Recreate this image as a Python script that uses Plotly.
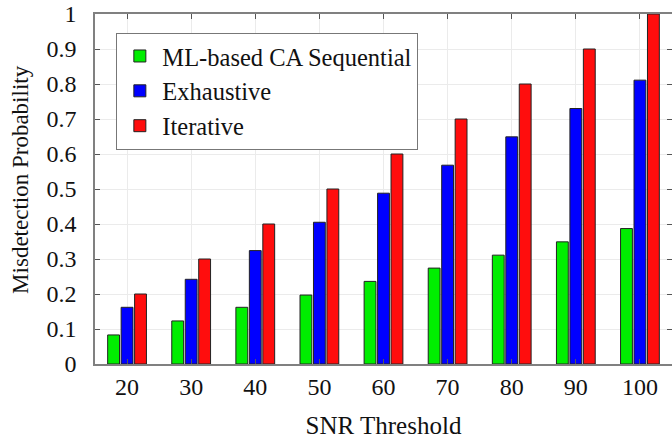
import plotly.graph_objects as go

snr = [20, 30, 40, 50, 60, 70, 80, 90, 100]
ml_seq = [0.083, 0.123, 0.162, 0.197, 0.236, 0.274, 0.311, 0.349, 0.387]
exhaustive = [0.162, 0.242, 0.324, 0.405, 0.488, 0.568, 0.649, 0.730, 0.811]
iterative = [0.2, 0.3, 0.4, 0.5, 0.6, 0.7, 0.8, 0.9, 1.0]

names = ["ML-based CA Sequential", "Exhaustive", "Iterative"]
colors = ["#00ee00", "#0000ff", "#ff0d0d"]
series = [ml_seq, exhaustive, iterative]

FONT = "Times New Roman"

fig = go.Figure()
for n, c, v in zip(names, colors, series):
    fig.add_trace(go.Bar(x=snr, y=v, name=n, marker=dict(color=c, line=dict(color="#222222", width=1))))

fig.update_layout(
    width=672, height=443,
    margin=dict(l=95, r=0, t=14, b=79),
    paper_bgcolor="white", plot_bgcolor="white",
    barmode="group", bargap=0.37, bargroupgap=0.12,
    font=dict(family=FONT, size=22, color="#111111"),
    legend=dict(x=0.037, y=0.947, xanchor="left", yanchor="top",
                bordercolor="#777777", borderwidth=1, bgcolor="white",
                font=dict(family=FONT, size=24.5), tracegroupgap=0,
                itemwidth=35),
    xaxis=dict(range=[15, 105], tickvals=snr, ticks="inside", ticklen=5,
               showline=True, linecolor="#808080", linewidth=1.5, mirror="ticks",
               showgrid=True, gridcolor="#ebebeb", gridwidth=1,
               tickcolor="#555555", automargin=False,
               tickfont=dict(family=FONT, size=24),
               title=dict(text="SNR Threshold", standoff=18, font=dict(family=FONT, size=25))),
    yaxis=dict(range=[0, 1], dtick=0.1, ticks="inside", ticklen=5,
               showline=True, linecolor="#808080", linewidth=1.5, mirror="ticks",
               showgrid=True, gridcolor="#ebebeb", gridwidth=1,
               tickcolor="#555555", zeroline=False, automargin=False,
               ticksuffix="\u2002",
               tickfont=dict(family=FONT, size=24)),
    annotations=[dict(text="Misdetection Probability", textangle=-90,
                      xref="paper", yref="paper", x=0, y=0.526,
                      xanchor="center", yanchor="middle", xshift=-74,
                      showarrow=False, font=dict(family=FONT, size=23, color="#111111"))],
)

fig.write_html("out.html")
